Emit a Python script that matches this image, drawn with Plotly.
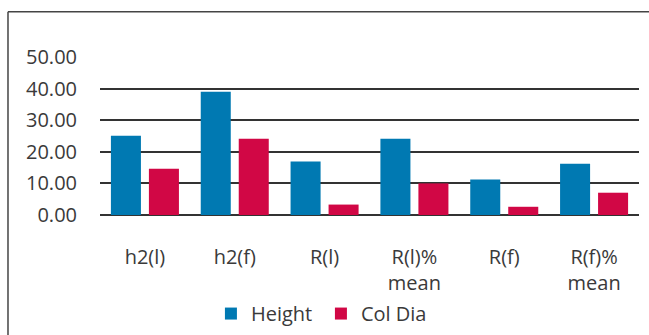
import plotly.graph_objects as go

# Category labels and series values
categories = ["h2(l)", "h2(f)", "R(l)", "R(l)%<br>mean", "R(f)", "R(f)%<br>mean"]
height_vals = [25.1, 39.0, 16.9, 24.1, 11.2, 16.2]
col_dia_vals = [14.65, 24.1, 3.3, 10.0, 2.6, 7.05]
y_ticks = [0, 10, 20, 30, 40, 50]
y_tick_text = ["0.00", "10.00", "20.00", "30.00", "40.00", "50.00"]

BLUE = "#0079B2"
RED = "#D10745"
TEXT = "#3a3a3a"
FONT = "Open Sans"

fig = go.Figure()
fig.add_trace(go.Bar(name="Height", x=categories, y=height_vals,
                     marker=dict(color=BLUE, line=dict(width=0))))
fig.add_trace(go.Bar(name="Col Dia", x=categories, y=col_dia_vals,
                     marker=dict(color=RED, line=dict(width=0))))

# Outer frame: top edge and left edge of the chart box
frame = dict(type="line", xref="paper", yref="paper",
             line=dict(color="#444444", width=1.5))
fig.add_shape(**frame, x0=-0.1707, x1=1.05, y0=1.2867, y1=1.2867)
fig.add_shape(**frame, x0=-0.1707, x1=-0.1707, y0=1.2867, y1=-0.85)

fig.update_layout(
    width=649, height=335,
    margin=dict(l=100, r=10, t=57, b=120, autoexpand=False),
    paper_bgcolor="white", plot_bgcolor="white",
    barmode="group", bargap=0.154, bargroupgap=0.21,
    font=dict(family=FONT, size=20, color=TEXT),
    showlegend=True,
    legend=dict(orientation="h", xref="container", yref="container",
                x=0.325, xanchor="left", y=0.064, yanchor="middle",
                font=dict(family=FONT, size=20, color=TEXT),
                entrywidth=65, entrywidthmode="pixels",
                bgcolor="rgba(0,0,0,0)", borderwidth=0),
)
fig.update_xaxes(showgrid=False, showline=False, zeroline=False,
                 automargin=False,
                 ticks="", tickangle=0, ticklabelstandoff=28,
                 tickfont=dict(family=FONT, size=20, color=TEXT))
fig.update_yaxes(range=[0, 50], tickvals=y_ticks, ticktext=y_tick_text,
                 automargin=False,
                 showgrid=True, gridcolor="#333333", gridwidth=1.5,
                 zeroline=True, zerolinecolor="#333333", zerolinewidth=1.5,
                 showline=False, ticks="", ticklabelstandoff=22,
                 tickfont=dict(family=FONT, size=20, color=TEXT))

fig.write_html("out.html")
